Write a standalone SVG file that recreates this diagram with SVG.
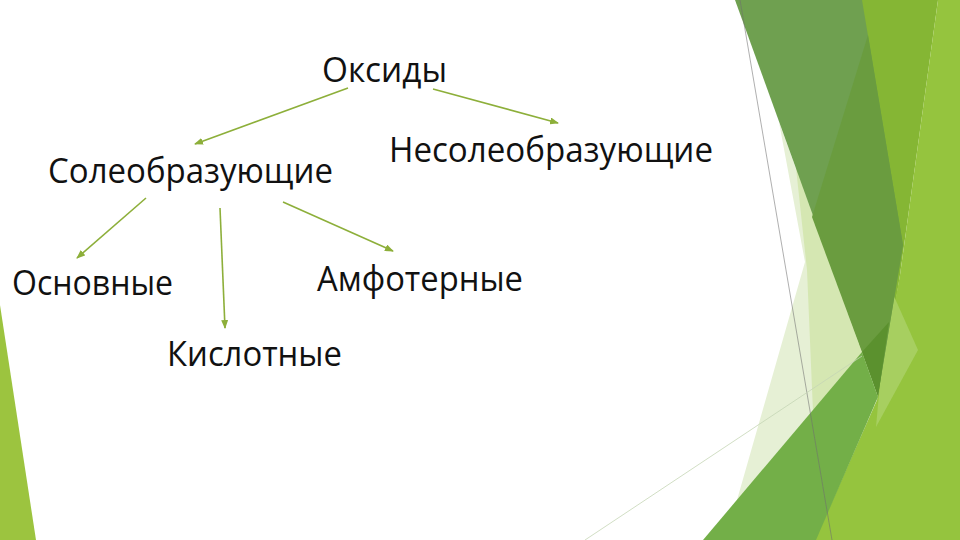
<svg xmlns="http://www.w3.org/2000/svg" width="960" height="540" viewBox="0 0 960 540">
  <style>
    .lbl { font-family: "Open Sans", "Liberation Sans", sans-serif; font-size: 35px; fill: #111111; }
    .conn { stroke: #8DAF3A; stroke-width: 1.6; fill: none; marker-end: url(#ah); }
  </style>
  <defs>
    <marker id="ah" markerUnits="userSpaceOnUse" markerWidth="9" markerHeight="7" refX="8" refY="3.5" orient="auto">
      <path d="M0,0 L9,3.5 L0,7 z" fill="#8DAF3A"/>
    </marker>
  </defs>
  <rect width="960" height="540" fill="#FFFFFF"/>
  <g id="decor">
    <polygon points="0,305 36,540 0,540" fill="#9CC43F"/>
    <polygon points="779,122 805,262 737,500 705,540 820,540 878,395" fill="#E6F0D5"/>
    <polygon points="796,168 807,270 813,412 870,345 820,180" fill="#D5E7B2"/>
    <polygon points="855,0 938,0 900,275 880,400" fill="#85B634"/>
    <polygon points="938,0 960,0 960,540 815,540 877,400 900,275" fill="#95C43E"/>
    <polygon points="889,285 918,350 876,427" fill="#A7CF60"/>
    <polygon points="735,0 862,0 903,245 878,395" fill="#6FA050"/>
    <polygon points="868,35 903,245 878,395 812,217" fill="#6A9C3F"/>
    <polygon points="862,352 889,322 878,397" fill="#5B912E"/>
    <polygon points="862,352 878,397 816,540 703,540" fill="#73AF48"/>
    <line x1="740" y1="0" x2="832" y2="540" stroke="#707070" stroke-width="0.8" stroke-opacity="0.7"/>
    <line x1="585" y1="540" x2="862" y2="356" stroke="#C5D6B5" stroke-width="0.8"/>
  </g>
  <g id="connectors">
    <line class="conn" x1="348" y1="88" x2="195" y2="144"/>
    <line class="conn" x1="433" y1="89" x2="558" y2="123"/>
    <line class="conn" x1="146" y1="198" x2="77" y2="258"/>
    <line class="conn" x1="220" y1="208" x2="225" y2="328"/>
    <line class="conn" x1="283" y1="202" x2="393" y2="251"/>
  </g>
  <g id="node-oksidy"><text class="lbl" x="322" y="82" textLength="125" lengthAdjust="spacingAndGlyphs">Оксиды</text></g>
  <g id="node-nesoleobr"><text class="lbl" x="389" y="162" textLength="324" lengthAdjust="spacingAndGlyphs">Несолеобразующие</text></g>
  <g id="node-soleobr"><text class="lbl" x="48" y="183" textLength="285" lengthAdjust="spacingAndGlyphs">Солеобразующие</text></g>
  <g id="node-osnovnye"><text class="lbl" x="12" y="295" textLength="161" lengthAdjust="spacingAndGlyphs">Основные</text></g>
  <g id="node-amfoternye"><text class="lbl" x="317" y="291" textLength="206" lengthAdjust="spacingAndGlyphs">Амфотерные</text></g>
  <g id="node-kislotnye"><text class="lbl" x="167" y="366" textLength="175" lengthAdjust="spacingAndGlyphs">Кислотные</text></g>
</svg>
